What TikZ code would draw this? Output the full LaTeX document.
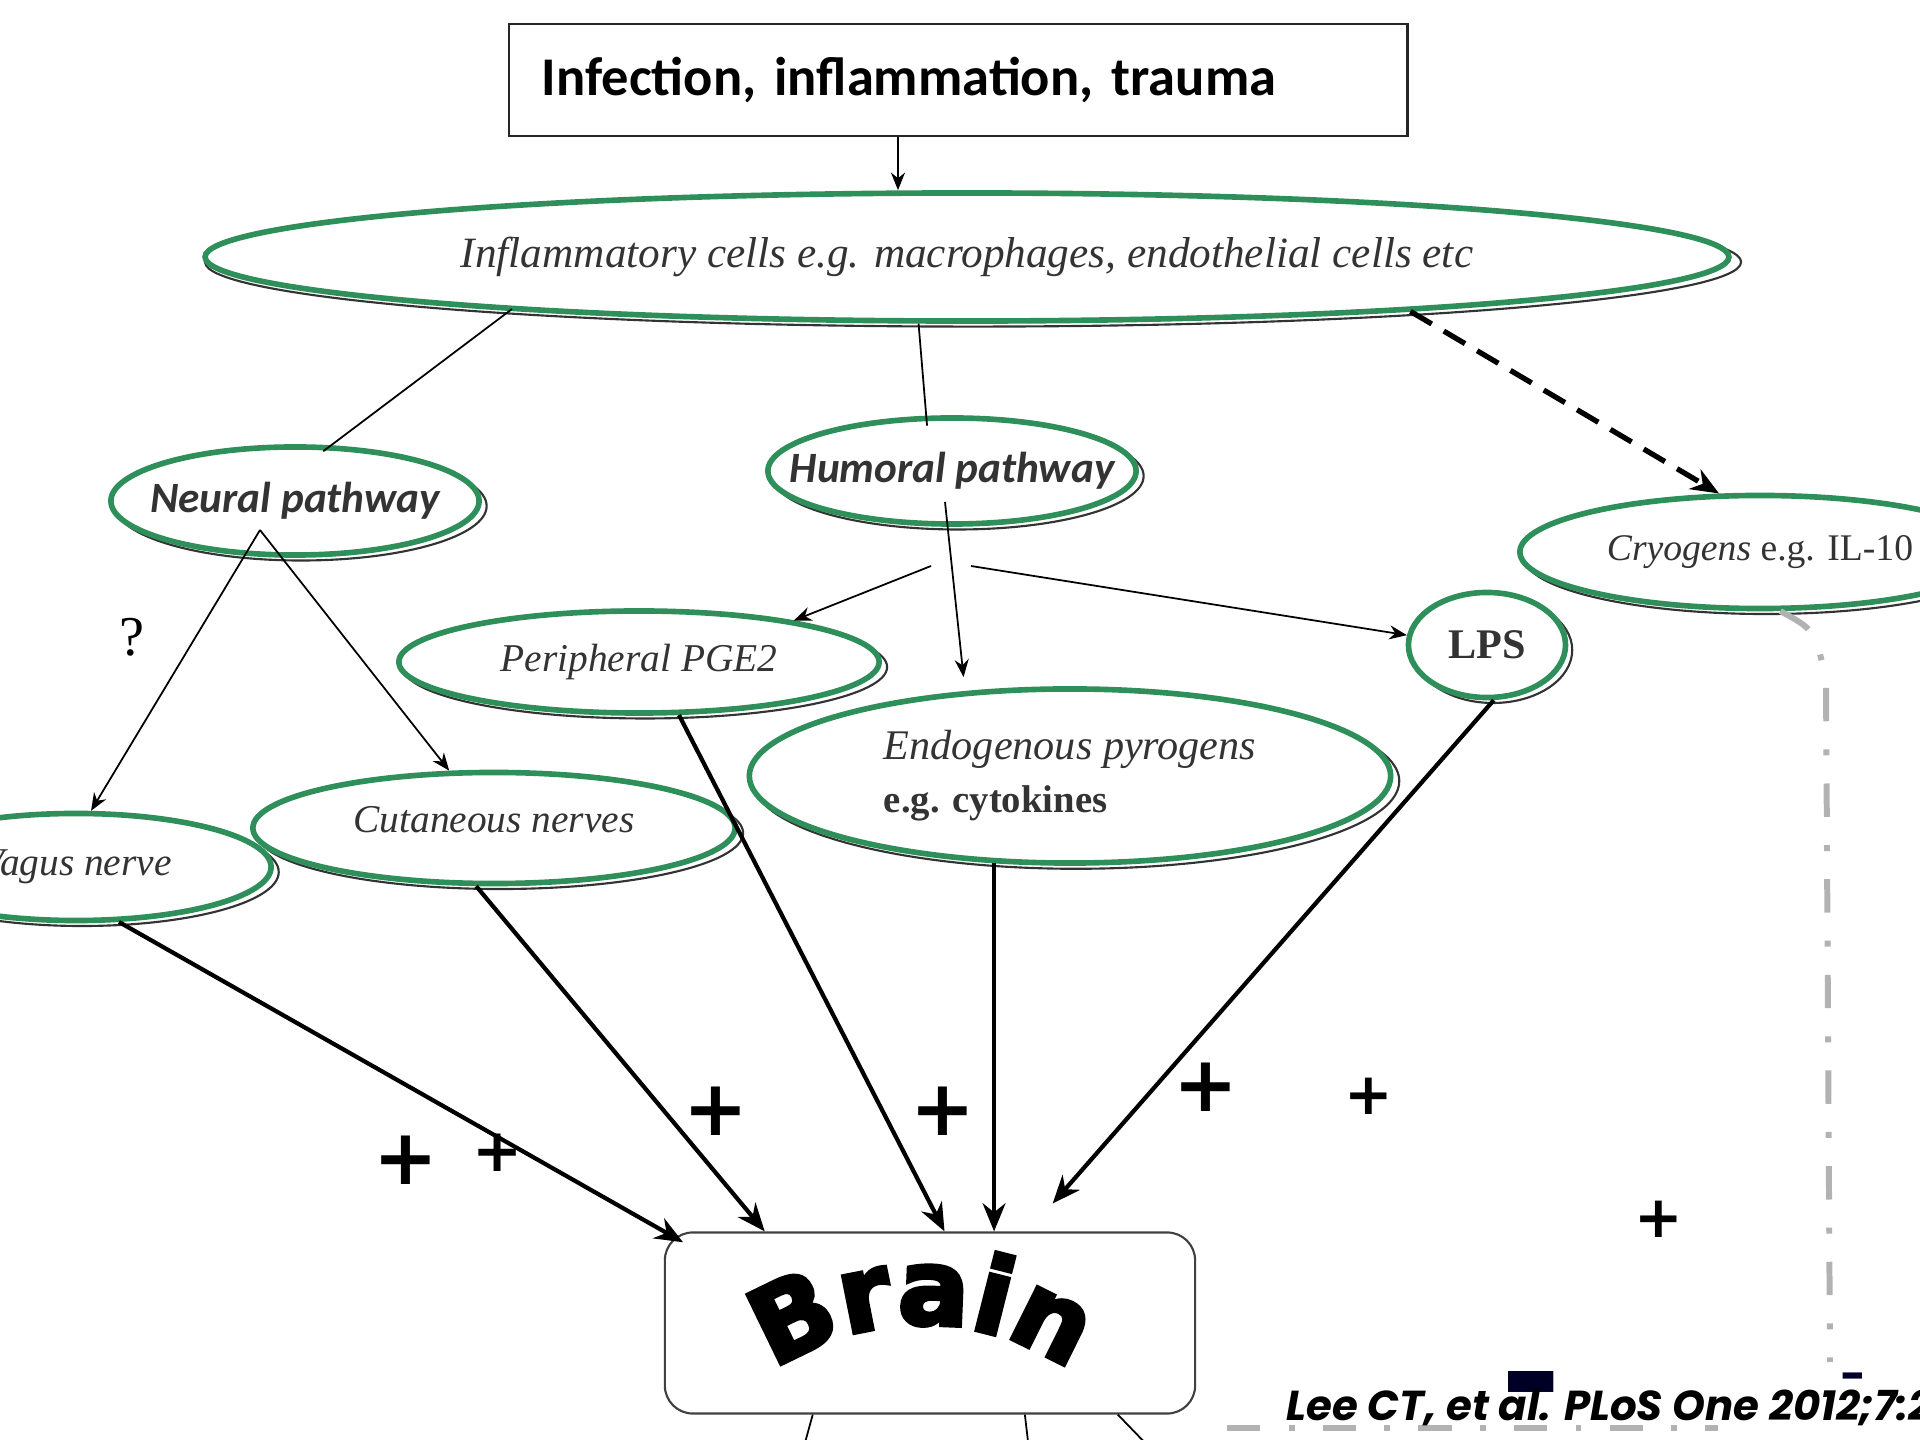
\documentclass[tikz,border=0pt]{standalone}
\usepackage{fontspec}
\setmainfont{Liberation Serif}
\newfontfamily\calibri{Carlito}
\newfontfamily\brainfont[FakeBold=4]{DejaVu Sans Bold}
\newfontfamily\signfont{DejaVu Sans Bold}
\newfontfamily\citefont{Poppins}
\usetikzlibrary{shapes.geometric, arrows.meta, positioning, calc, shadows, decorations.text}

\definecolor{ringgreen}{RGB}{46,143,90}

\begin{document}
\begin{tikzpicture}[
    x=0.01cm, y=-0.01cm,
    source/.style={
        rectangle,
        draw=black!85,
        line width=0.7pt,
        minimum width=8.98cm,
        minimum height=1.12cm,
        text width=8.32cm,
        inner xsep=0.33cm,
        align=left,
        font=\calibri\bfseries\fontsize{15.5}{18}\selectfont
    },
    cell/.style={
        ellipse,
        draw=ringgreen,
        fill=white,
        line width=1.6pt,
        inner sep=0pt,
        text=black!80,
        font=\itshape\fontsize{11.2}{14}\selectfont,
        general shadow={draw=black!80, fill=none, line width=0.6pt,
            shadow xshift=0.06cm, shadow yshift=-0.05cm, shadow scale=1.008}
    },
    pathway/.style={
        cell,
        inner xsep=-0.4cm,
        font=\calibri\bfseries\itshape\fontsize{12.3}{15}\selectfont
    },
    target/.style={
        rectangle,
        draw=black!75,
        line width=0.6pt,
        rounded corners=0.28cm,
        minimum width=5.3cm,
        minimum height=1.81cm
    },
    link/.style={
        draw,
        line width=0.5pt
    },
    line/.style={
        draw,
        -{Stealth[length=5pt, width=4pt]},
        line width=0.5pt
    },
    heavy/.style={
        draw,
        -{Stealth[length=8pt, width=6.5pt]},
        line width=1.2pt
    },
    inhib/.style={
        draw=black!30,
        line width=1.7pt,
        dash pattern=on 9.5pt off 8pt on 1.7pt off 8pt
    },
    plus/.style={
        font=\signfont\fontsize{22}{22}\selectfont,
        inner sep=0pt
    },
    minus/.style={
        font=\signfont\fontsize{42}{42}\selectfont,
        text=black!85!blue,
        inner sep=0pt
    }
]
    \useasboundingbox (0,0) rectangle (1920,1440);

    % --- Nodes ---

    % Trigger
    \node [source] (trigger) at (958,80) {Infection, inflammation, trauma};

    % Inflammatory cells
    \node [cell, minimum width=15.23cm, minimum height=1.28cm, font=\itshape\fontsize{12.3}{15}\selectfont] (cells) at (967,257)
        {Inflammatory cells e.g. macrophages, endothelial cells etc};

    % Pathways
    \node [pathway, minimum width=3.68cm, minimum height=1.08cm] (neural) at (295,501) {Neural pathway};
    \node [pathway, minimum width=3.68cm, minimum height=1.06cm] (humoral) at (952,471) {Humoral pathway};

    % Mediators
    \node [cell, minimum width=4.8cm, minimum height=1.13cm, font=\itshape\fontsize{10.7}{13}\selectfont] (cryo) at (1760,552)
        {Cryogens \upshape e.g. IL-10};
    \node [cell, minimum width=4.8cm, minimum height=1.02cm] (pge) at (639,662) {Peripheral PGE2};
    \node [cell, minimum width=1.57cm, minimum height=1.05cm, font=\bfseries\fontsize{12}{15}\selectfont] (lps) at (1487,645) {LPS};
    \node [cell, minimum width=6.41cm, minimum height=1.74cm, align=left, font=\itshape\fontsize{12}{15}\selectfont] (endo) at (1070,776)
        {Endogenous pyrogens\\\upshape\bfseries\fontsize{11}{15}\selectfont e.g. cytokines};

    % Nerves
    \node [cell, minimum width=3.9cm, minimum height=1.07cm] (vagus) at (76,867) {Vagus nerve};
    \node [cell, minimum width=4.82cm, minimum height=1.11cm, text depth=0.17cm] (cut) at (494,828) {Cutaneous nerves};

    % Brain
    \node [target] (brain) at (930,1323) {};
    \path [decorate, decoration={text along path, text align=center,
        text={|\brainfont\fontsize{30}{30}\selectfont|Brain}}]
        ($(brain.center)+(-192,78)$) .. controls ($(brain.center)+(-90,-24)$)
        and ($(brain.center)+(74,-24)$) .. ($(brain.center)+(176,78)$);

    % --- Connections ---

    \coordinate (drop) at ($(trigger.south)+(-60,0)$);
    \draw [line] (drop) -- (drop |- cells.north);

    \draw [link, shorten >=-0.1cm] ($(cells.center)+(-455,52)$) -- (neural.57);
    \draw [link, shorten >=-0.1cm] (cells.234) -- (humoral.115);
    \draw [heavy, line width=1.5pt, dash pattern=on 7pt off 4pt] (cells.-7) -- (cryo.125);

    % Neural branches
    \coordinate (nfork) at ($(neural.center)+(-35,29)$);
    \draw [line] (nfork) -- (vagus.75);
    \draw [line] (nfork) -- (cut.128);
    \node [font=\fontsize{16}{16}\selectfont] (query) at (132,637) {?};

    % Humoral branches
    \coordinate (hstem) at ($(humoral.center)+(-7,31)$);
    \coordinate (hleft) at ($(humoral.center)+(-21,95)$);
    \coordinate (hright) at ($(humoral.center)+(19,95)$);
    \draw [line, shorten >=0.14cm] (hstem) -- (endo.141);
    \draw [line] (hleft) -- (pge.15);
    \draw [line] (hright) -- (lps.173);

    % Into the brain
    \draw [heavy, shorten >=-0.22cm] (vagus.-52) -- (brain.161);
    \draw [heavy] (cut.253) -- (brain.151);
    \draw [heavy] (pge.-53) -- (brain.81);
    \draw [heavy] (endo.229) -- (endo.229 |- brain.north);
    \draw [heavy, shorten >=0.37cm] (lps.-83) -- (brain.43);

    % Cryogen feedback
    \coordinate (cbend) at (1826,680);
    \coordinate (cend) at (1830,1362);
    \draw [inhib] (cryo.-71) .. controls (1815,630) .. (cbend) -- (cend);
    \coordinate (gleft) at (1227,1428);
    \coordinate (gright) at (1718,1428);
    \draw [inhib] (gleft) -- (gright);

    % Out of the brain
    \coordinate (stub1) at (803,1450);
    \coordinate (stub2) at (1029,1450);
    \coordinate (stub3) at (1152,1450);
    \draw [link] (brain.218) -- (stub1);
    \draw [link] (brain.-44) -- (stub2);
    \draw [link] (brain.-26) -- (stub3);

    % Signs
    \node [plus] (p1) at (406,1160) {+};
    \node [plus, font=\signfont\fontsize{17}{17}\selectfont] (p2) at (498,1153) {+};
    \node [plus] (p3) at (716,1111) {+};
    \node [plus] (p4) at (943,1111) {+};
    \node [plus] (p5) at (1206,1087) {+};
    \node [plus, font=\signfont\fontsize{16.5}{16.5}\selectfont] (p6) at (1369,1096) {+};
    \node [plus, font=\signfont\fontsize{16.5}{16.5}\selectfont] (p7) at (1659,1219) {+};
    \node [minus] (m1) at (1531,1398) {-};
    \node [minus, font=\signfont\fontsize{14}{14}\selectfont] (m2) at (1853,1381) {–};

    % Source
    \node [anchor=base west, inner sep=0pt, font=\citefont\bfseries\itshape\fontsize{11.9}{14}\selectfont]
        (cite) at (1286,1420) {Lee CT, et al. PLoS One 2012;7:2};

\end{tikzpicture}
\end{document}
